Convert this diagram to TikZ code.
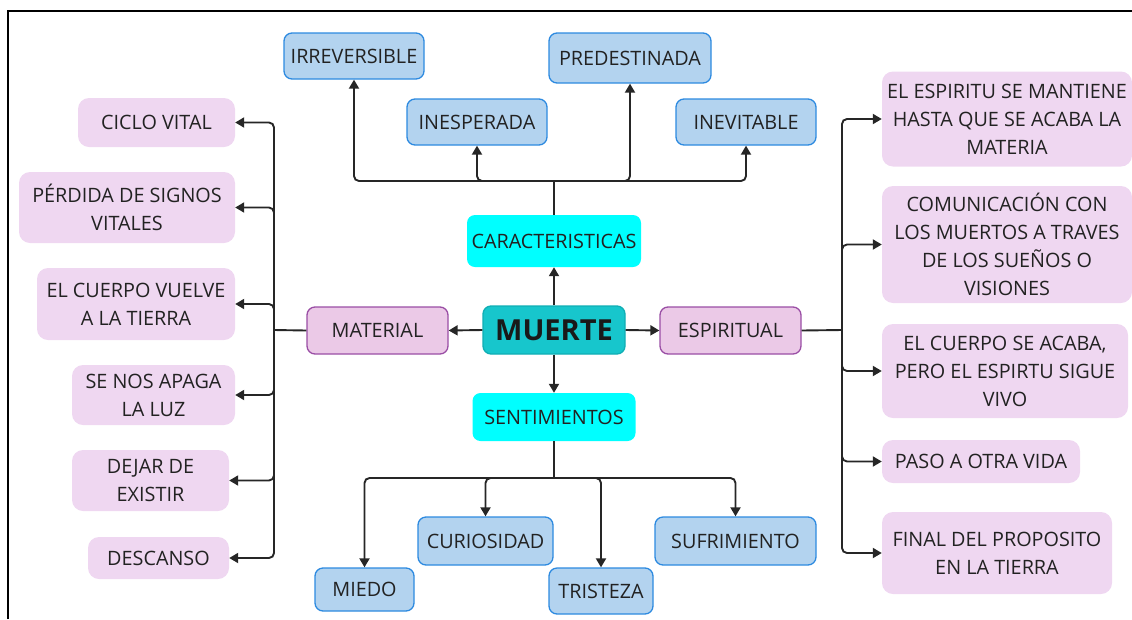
\documentclass[tikz,border=0pt]{standalone}
\usepackage{fontspec}
\setmainfont{Open Sans}
\usetikzlibrary{arrows.meta}
\definecolor{bluefill}{HTML}{B3D3EF}
\definecolor{blueline}{HTML}{2D8AE0}
\definecolor{cyanfill}{HTML}{00FFFF}
\definecolor{mfill}{HTML}{17C6CC}
\definecolor{mline}{HTML}{10AEB4}
\definecolor{pfill}{HTML}{EBC9E7}
\definecolor{pline}{HTML}{9A4EA5}
\definecolor{leaf}{HTML}{EFD7F1}
\definecolor{txt}{HTML}{222222}
\definecolor{conn}{HTML}{262626}
\tikzset{
  base/.style={align=center, text=txt, inner sep=0pt, font=\fontsize{19.8}{28}\selectfont},
  bluebox/.style={base, fill=bluefill, draw=blueline, line width=1.3pt, rounded corners=8pt},
  cyanbox/.style={base, fill=cyanfill, rounded corners=8pt},
  rootbox/.style={base, fill=mfill, draw=mline, line width=1.3pt, rounded corners=8pt, font=\fontsize{29}{32}\selectfont\bfseries, text=black!90},
  midbox/.style={base, fill=pfill, draw=pline, line width=1.3pt, rounded corners=8pt},
  leafbox/.style={base, fill=leaf, rounded corners=11pt},
  arr/.style={draw=conn, line width=1.9pt, rounded corners=5pt, -{Triangle[length=9pt,width=10pt]}},
  ln/.style={draw=conn, line width=1.9pt, rounded corners=5pt},
}
\begin{document}
\begin{tikzpicture}[x=1pt,y=-1pt]
\useasboundingbox (0,0) rectangle (1132,619);
\draw[line width=1.5pt, black] (8,619) -- (8,11) -- (1132,11);

% central
\node[rootbox, minimum width=142, minimum height=48] (muerte) at (554,330) {MUERTE};
\node[cyanbox, minimum width=174, minimum height=52] (car) at (554,241) {CARACTERISTICAS};
\node[cyanbox, minimum width=163, minimum height=48] (sent) at (554,417) {SENTIMIENTOS};
\node[midbox, minimum width=141, minimum height=47] (mat) at (377.5,330.5) {MATERIAL};
\node[midbox, minimum width=141, minimum height=47] (esp) at (730.5,330.5) {ESPIRITUAL};

% characteristics
\node[bluebox, minimum width=140, minimum height=46] (irr) at (354,56) {IRREVERSIBLE};
\node[bluebox, minimum width=162, minimum height=50] (pre) at (630,58) {PREDESTINADA};
\node[bluebox, minimum width=140, minimum height=46] (ine) at (477,122) {INESPERADA};
\node[bluebox, minimum width=140, minimum height=46] (inv) at (746,122) {INEVITABLE};

% feelings
\node[bluebox, minimum width=135, minimum height=48] (cur) at (485.5,541) {CURIOSIDAD};
\node[bluebox, minimum width=161, minimum height=48] (suf) at (735.5,541) {SUFRIMIENTO};
\node[bluebox, minimum width=99, minimum height=43] (mie) at (364.5,589.5) {MIEDO};
\node[bluebox, minimum width=104, minimum height=46] (tri) at (601,591) {TRISTEZA};

% material leaves
\node[leafbox, minimum width=157, minimum height=49] (l1) at (156.5,122.5) {CICLO VITAL};
\node[leafbox, minimum width=216, minimum height=71] (l2) at (127,207.5) {PÉRDIDA DE SIGNOS\\VITALES};
\node[leafbox, minimum width=198, minimum height=72] (l3) at (136,304) {EL CUERPO VUELVE\\A LA TIERRA};
\node[leafbox, minimum width=163, minimum height=60] (l4) at (153.5,395) {SE NOS APAGA\\LA LUZ};
\node[leafbox, minimum width=157, minimum height=61] (l5) at (150.5,480.5) {DEJAR DE\\EXISTIR};
\node[leafbox, minimum width=141, minimum height=42] (l6) at (158.5,558) {DESCANSO};

% spiritual leaves
\node[leafbox, minimum width=250, minimum height=95] (r1) at (1007,119) {EL ESPIRITU SE MANTIENE\\HASTA QUE SE ACABA LA\\MATERIA};
\node[leafbox, minimum width=250, minimum height=117] (r2) at (1007,244.5) {COMUNICACIÓN CON\\LOS MUERTOS A TRAVES\\DE LOS SUEÑOS O\\VISIONES};
\node[leafbox, minimum width=246, minimum height=94] (r3) at (1005,371) {EL CUERPO SE ACABA,\\PERO EL ESPIRTU SIGUE\\VIVO};
\node[leafbox, minimum width=198, minimum height=43] (r4) at (981,461.5) {PASO A OTRA VIDA};
\node[leafbox, minimum width=230, minimum height=82] (r5) at (997,553) {FINAL DEL PROPOSITO\\EN LA TIERRA};

\coordinate (cb) at (554,181);
\coordinate (sb) at (554,478);
\coordinate (mb) at (274,330);
\coordinate (eb) at (842,330);

% root arrows
\draw[arr] (muerte.north) -- (car.south);
\draw[arr] (muerte.south) -- (sent.north);
\draw[arr] (muerte.west) -- (mat.east);
\draw[arr] (muerte.east) -- (esp.west);

% characteristics tree
\draw[ln] (car.north) -- (cb);
\foreach \n in {irr,ine,pre,inv} \draw[arr] (cb) -| (\n.south);

% feelings tree
\draw[ln] (sent.south) -- (sb);
\foreach \n in {mie,cur,tri,suf} \draw[arr] (sb) -| (\n.north);

% material tree
\draw[ln] (mat.west) -- (mb);
\foreach \n in {l1,l2,l3,l4,l5,l6} \draw[arr] (mb) |- (\n.east);

% spiritual tree
\draw[ln] (esp.east) -- (eb);
\foreach \n in {r1,r2,r3,r4,r5} \draw[arr] (eb) |- (\n.west);
\end{tikzpicture}
\end{document}
